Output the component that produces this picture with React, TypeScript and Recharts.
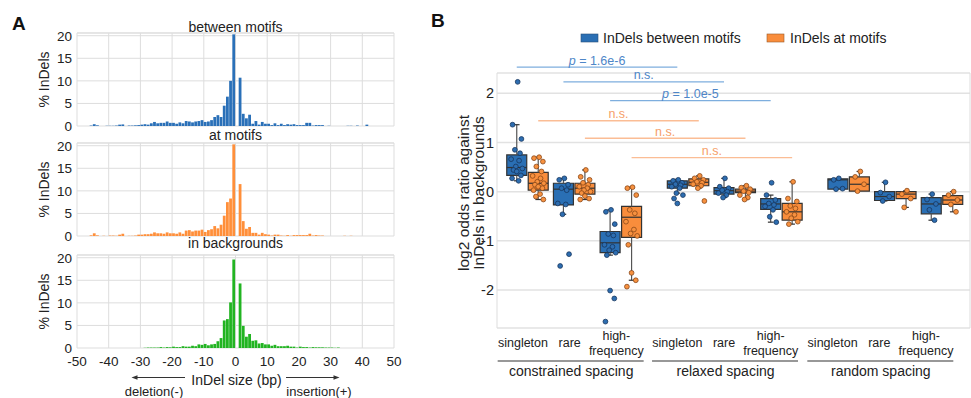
import React from 'react';
import {
  BarChart, Bar, XAxis, YAxis, CartesianGrid, ReferenceLine, ReferenceArea,
  ComposedChart, Scatter,
} from 'recharts';

const FONT = '"Liberation Sans", Arial, Helvetica, sans-serif';
const TEXT = '#222';
const GRID = '#dddddd';

// ---------- panel A: InDel size distributions (% of InDels per size bin) ----------
const indelSizes = [
  -46, -45, -44, -43, -42, -41, -40, -39, -38, -37,
  -36, -35, -34, -33, -32, -31, -30, -29, -28, -27,
  -26, -25, -24, -23, -22, -21, -20, -19, -18, -17,
  -16, -15, -14, -13, -12, -11, -10, -9, -8, -7,
  -6, -5, -4, -3, -2, -1, 0, 1, 2, 3,
  4, 5, 6, 7, 8, 9, 10, 11, 12, 13,
  14, 15, 16, 17, 18, 19, 20, 21, 22, 23,
  24, 25, 26, 27, 28, 29, 30, 31, 32, 33,
  34, 35, 36, 37, 38, 39, 40, 41, 42, 43,
  44, 45,
];

const betweenMotifs = [
  0.1, 0.4, 0.15, 0, 0, 0.05, 0.05, 0.05, 0.1, 0.3,
  0.35, 0, 0.1, 0.1, 0.15, 0.2, 0.3, 0.4, 0.3, 0.6,
  0.9, 0.6, 0.7, 0.7, 1.0, 0.7, 0.7, 0.5, 0.8, 0.6,
  1.1, 1.0, 0.8, 1.0, 1.1, 1.3, 0.9, 1.0, 1.3, 2.0,
  2.4, 2.0, 4.5, 6.5, 10.0, 20.3, 0, 10.7, 2.7, 1.7,
  2.5, 0.5, 1.1, 0.3, 0.9, 0.5, 0.5, 0.2, 0.6, 0.2,
  0.5, 0.2, 0.4, 0.3, 0.4, 0.2, 0.2, 0.2, 0.7, 0.7,
  0.1, 0.2, 0.2, 0.2, 0, 0.05, 0, 0, 0, 0,
  0, 0.05, 0.05, 0, 0.1, 0, 0, 0.3, 0, 0,
  0, 0,
];

const atMotifs = [
  0.15, 0.6, 0.15, 0, 0.05, 0, 0.1, 0.1, 0.05, 0.3,
  0.5, 0, 0.05, 0.05, 0.1, 0.3, 0.3, 0.4, 0.4, 0.5,
  0.8, 0.6, 0.6, 0.5, 0.8, 0.6, 0.6, 0.5, 0.8, 0.5,
  1.2, 1.3, 1.0, 1.2, 1.2, 1.4, 0.9, 1.3, 1.5, 2.2,
  1.7, 2.5, 4.5, 7.5, 8.3, 20.3, 0, 11.5, 3.3, 1.6,
  2.0, 0.7, 0.7, 0.3, 0.7, 0.4, 0.3, 0.1, 0.3, 0.3,
  0.1, 0.05, 0.2, 0.05, 0.2, 0.2, 0.2, 0.2, 0.2, 0.5,
  0.1, 0.2, 0.1, 0.1, 0, 0, 0, 0, 0, 0,
  0.05, 0, 0.05, 0, 0, 0, 0, 0, 0, 0,
  0, 0,
];

const inBackgrounds = [
  0, 0, 0, 0, 0, 0, 0, 0, 0, 0,
  0, 0, 0, 0, 0, 0, 0, 0.05, 0.1, 0.1,
  0.1, 0.1, 0.2, 0.1, 0.2, 0.15, 0.3, 0.2, 0.2, 0.4,
  0.3, 0.3, 0.5, 0.4, 0.8, 0.7, 0.9, 0.6, 0.8, 0.9,
  1.5, 2.2, 6.1, 6.4, 10.1, 19.6, 0, 14.3, 4.9, 2.5,
  3.1, 1.6, 1.7, 1.0, 1.1, 0.8, 0.8, 0.5, 0.7, 0.4,
  0.4, 0.4, 0.5, 0.3, 0.3, 0.1, 0.3, 0.2, 0.2, 0.1,
  0.2, 0.15, 0.15, 0.15, 0.1, 0.1, 0.1, 0.05, 0.1, 0,
  0, 0, 0, 0, 0, 0, 0, 0, 0, 0,
  0, 0,
];

const sizeTicks = [-50, -40, -30, -20, -10, 0, 10, 20, 30, 40, 50];
const pctTicks = [0, 5, 10, 15, 20];
const PCT_MAX = 20.6;

// ---------- panel B: log2 odds ratio box plots ----------
const categories = ['singleton', 'rare', 'high-frequency'];
const spacings = ['constrained spacing', 'relaxed spacing', 'random spacing'];

// [lower whisker, q1, median, q3, upper whisker]; constrained(s,r,h), relaxed(s,r,h), random(s,r,h)
const betweenBoxes = [
  [0.22, 0.33, 0.49, 0.745, 1.36],
  [-0.46, -0.27, 0.05, 0.17, 0.27],
  [-1.29, -1.24, -1.04, -0.81, -0.37],
  [-0.03, 0.07, 0.15, 0.22, 0.25],
  [-0.12, -0.05, 0.02, 0.08, 0.27],
  [-0.62, -0.36, -0.25, -0.14, -0.07],
  [0.05, 0.05, 0.24, 0.26, 0.27],
  [-0.19, -0.18, -0.1, 0.0, 0.19],
  [-0.58, -0.45, -0.25, -0.12, -0.05],
];
const atBoxes = [
  [-0.16, 0.03, 0.17, 0.39, 0.7],
  [-0.16, -0.05, 0.07, 0.17, 0.44],
  [-1.8, -0.93, -0.52, -0.3, 0.09],
  [0.07, 0.12, 0.19, 0.26, 0.32],
  [-0.16, -0.02, 0.01, 0.05, 0.12],
  [-0.66, -0.58, -0.41, -0.24, 0.2],
  [0.01, 0.01, 0.15, 0.3, 0.41],
  [-0.32, -0.14, -0.05, 0.0, 0.02],
  [-0.41, -0.26, -0.17, -0.08, 0.0],
];

const betweenPoints = [
  [2.23, 1.36, 1.07, 0.85, 0.78, 0.66, 0.63, 0.51, 0.47, 0.44, 0.41, 0.33, 0.27, 0.22],
  [0.27, 0.24, 0.14, 0.07, 0.03, -0.24, -0.26, -0.46, -1.27, -1.51],
  [-0.37, -0.41, -0.66, -0.86, -0.89, -1.08, -1.12, -1.19, -1.24, -1.29, -2.01, -2.17, -2.64],
  [0.24, 0.22, 0.18, 0.15, 0.13, 0.1, 0.07, -0.03, -0.07, -0.14, -0.24],
  [0.27, 0.1, 0.07, 0.03, 0.0, -0.03, -0.07, -0.12],
  [0.18, -0.07, -0.17, -0.24, -0.27, -0.3, -0.37, -0.51, -0.62],
  [0.27, 0.24, 0.06, 0.05],
  [0.19, -0.02, -0.1, -0.19],
  [-0.05, -0.16, -0.25, -0.37, -0.58],
];
const atPoints = [
  [0.7, 0.68, 0.61, 0.51, 0.41, 0.32, 0.27, 0.2, 0.17, 0.14, 0.1, 0.07, 0.03, -0.05, -0.1, -0.16],
  [0.44, 0.3, 0.24, 0.18, 0.14, 0.1, 0.07, 0.03, 0.0, -0.03, -0.09, -0.14, -0.16],
  [0.09, 0.07, -0.07, -0.37, -0.44, -0.61, -0.77, -0.85, -0.9, -1.08, -1.65, -1.8, -1.93],
  [0.32, 0.27, 0.24, 0.2, 0.18, 0.15, 0.12, 0.07, -0.19],
  [0.12, 0.08, 0.05, 0.01, -0.02, -0.07, -0.12, -0.16],
  [0.2, -0.14, -0.2, -0.29, -0.34, -0.41, -0.47, -0.54, -0.61, -0.66],
  [0.41, 0.3, 0.15, 0.01],
  [0.02, -0.05, -0.14, -0.32],
  [0.0, -0.07, -0.17, -0.26, -0.41],
];

// constrained vs relaxed comparisons, one per category
const betweenTests = ['p = 1.6e-6', 'n.s.', 'p = 1.0e-5'];
const atTests = ['n.s.', 'n.s.', 'n.s.'];
const betweenTestLevels = [2.53, 2.23, 1.85];
const atTestLevels = [1.44, 1.085, 0.69];
const oddsTicks = [-2, -1, 0, 1, 2];

const BLUE = '#2a6fb4';
const ORANGE = '#f98d3c';
const GROUP_STRIDE = 3.44;
const SERIES_SHIFT = 0.23;
const BOX_HALF = 0.214;
const CAP_HALF = 0.06;
const X_MIN = -0.653;
const X_MAX = 9.48;
const LABEL_SHIFT = [-4.5, -10.7, -16];
const JITTER = [0.02, -0.09, 0.1, -0.04, 0.07, -0.12, 0.05, -0.02, 0.12, -0.07, 0.0, 0.09, -0.1, 0.04, -0.05, 0.11];

const boxCenters = spacings.flatMap((_, g) => categories.map((_, c) => g * GROUP_STRIDE + c));

const seriesB = [
  {
    name: 'InDels between motifs', boxes: betweenBoxes, points: betweenPoints, shift: -SERIES_SHIFT,
    fill: BLUE, dot: '#2d6db0', dotEdge: '#17365e', tests: betweenTests, levels: betweenTestLevels,
    testLine: '#7eaede', testText: '#4e86c8',
  },
  {
    name: 'InDels at motifs', boxes: atBoxes, points: atPoints, shift: SERIES_SHIFT,
    fill: ORANGE, dot: '#f7913f', dotEdge: '#8a4718', tests: atTests, levels: atTestLevels,
    testLine: '#fbbd95', testText: '#f6a06a',
  },
];

function Histogram({ top, values, color, showAxis }: { top: number; values: number[]; color: string; showAxis: boolean }) {
  const data = indelSizes
    .map((s, i) => ({ x: s + 0.5, pct: values[i] }))
    .filter((d) => d.pct > 0);
  return (
    <div style={{ position: 'absolute', left: 0, top }}>
      <BarChart
        width={410}
        height={showAxis ? 176 : 140}
        data={data}
        margin={{ top: 33, right: 16, left: 0, bottom: showAxis ? 0 : 14 }}
      >
        <CartesianGrid stroke={GRID} />
        <ReferenceLine y={PCT_MAX} stroke={GRID} />
        <XAxis
          type="number" dataKey="x" domain={[-50, 50]} ticks={sizeTicks} interval={0}
          hide={!showAxis} height={50} tickSize={0} tickMargin={8} axisLine={false} tickLine={false}
          tick={{ fontSize: 13.5, fill: TEXT }} allowDataOverflow
        />
        <YAxis
          type="number" domain={[0, PCT_MAX]} ticks={pctTicks} interval={0} width={77}
          tickSize={0} tickMargin={5} axisLine={false} tickLine={false}
          tick={{ fontSize: 13.5, fill: TEXT }} allowDataOverflow
        />
        <Bar dataKey="pct" fill={color} barSize={2.8} isAnimationActive={false} />
      </BarChart>
    </div>
  );
}

const renderCatTick = (props: any) => {
  const { x, y, payload } = props;
  const idx = boxCenters.findIndex((p) => Math.abs(p - payload.value) < 1e-6);
  if (idx < 0) return <g />;
  const g = Math.floor(idx / categories.length);
  const c = idx % categories.length;
  const lx = x + LABEL_SHIFT[g];
  const label = categories[c];
  const cut = label.indexOf('-');
  return (
    <g>
      {cut < 0 ? (
        <text x={lx} y={y + 19} textAnchor="middle" fontSize={12.5} fill={TEXT}>{label}</text>
      ) : (
        <text textAnchor="middle" fontSize={12.5} fill={TEXT}>
          <tspan x={lx} y={y + 11.5}>{label.slice(0, cut + 1)}</tspan>
          <tspan x={lx} y={y + 27}>{label.slice(cut + 1)}</tspan>
        </text>
      )}
      {c === 1 && (
        <>
          <line x1={lx - 72} x2={lx + 74} y1={y + 33} y2={y + 33} stroke="#333" strokeWidth={1.2} />
          <text x={lx + 1.5} y={y + 48} textAnchor="middle" fontSize={14} fill={TEXT}>{spacings[g]}</text>
        </>
      )}
    </g>
  );
};

const testLabel = (text: string, color: string) => (props: any) => {
  const vb = props.viewBox || {};
  const cx = (vb.x || 0) + (vb.width || 0) / 2;
  const y = (vb.y || 0) - 2.5;
  const italic = text.startsWith('p ');
  return (
    <text x={cx} y={y} textAnchor="middle" fontSize={12.5} fill={color}>
      {italic ? (<><tspan fontStyle="italic">p</tspan>{text.slice(1)}</>) : text}
    </text>
  );
};

function BoxPanel() {
  const boxEls: React.ReactNode[] = [];
  seriesB.forEach((s, si) => {
    s.boxes.forEach(([lo, q1, med, q3, hi], i) => {
      const cx = boxCenters[i] + s.shift;
      const k = `${si}-${i}`;
      if (hi > q3) {
        boxEls.push(<ReferenceLine key={`wu${k}`} segment={[{ x: cx, y: q3 }, { x: cx, y: hi }]} stroke="#555" strokeWidth={1.2} />);
        boxEls.push(<ReferenceLine key={`cu${k}`} segment={[{ x: cx - CAP_HALF, y: hi }, { x: cx + CAP_HALF, y: hi }]} stroke="#333" strokeWidth={1.2} />);
      }
      if (lo < q1) {
        boxEls.push(<ReferenceLine key={`wl${k}`} segment={[{ x: cx, y: q1 }, { x: cx, y: lo }]} stroke="#555" strokeWidth={1.2} />);
        boxEls.push(<ReferenceLine key={`cl${k}`} segment={[{ x: cx - CAP_HALF, y: lo }, { x: cx + CAP_HALF, y: lo }]} stroke="#333" strokeWidth={1.2} />);
      }
      boxEls.push(
        <ReferenceArea key={`b${k}`} x1={cx - BOX_HALF} x2={cx + BOX_HALF} y1={q1} y2={q3}
          fill={s.fill} fillOpacity={1} stroke="#333" strokeWidth={1.2} />,
      );
      boxEls.push(<ReferenceLine key={`m${k}`} segment={[{ x: cx - BOX_HALF, y: med }, { x: cx + BOX_HALF, y: med }]} stroke="#333" strokeWidth={1.2} />);
    });
  });

  const testEls: React.ReactNode[] = [];
  seriesB.forEach((s, si) => {
    s.tests.forEach((t, c) => {
      const x1 = boxCenters[c] + s.shift;
      const x2 = boxCenters[categories.length + c] + s.shift;
      testEls.push(
        <ReferenceLine key={`t${si}-${c}`} ifOverflow="visible"
          segment={[{ x: x1, y: s.levels[c] }, { x: x2, y: s.levels[c] }]}
          stroke={s.testLine} strokeWidth={1.3} label={testLabel(t, s.testText)} />,
      );
    });
  });

  return (
    <div style={{ position: 'absolute', left: 430, top: 0 }}>
      <ComposedChart width={541} height={398} margin={{ top: 73, right: 1, left: 0, bottom: 0 }}>
        <CartesianGrid vertical={false} stroke="#e2e2e2" strokeWidth={1.5} />
        <ReferenceLine x={X_MAX} stroke={GRID} />
        <XAxis
          type="number" dataKey="x" domain={[X_MIN, X_MAX]} ticks={boxCenters} interval={0}
          tick={renderCatTick} tickSize={0} tickMargin={0} axisLine={false} tickLine={false}
          height={70} allowDataOverflow
        />
        <YAxis
          type="number" dataKey="y" domain={[-2.77, 2.41]} ticks={oddsTicks} interval={0} width={67}
          tickSize={0} tickMargin={3} tickLine={false} axisLine={{ stroke: GRID }}
          tick={{ fontSize: 14.5, fill: TEXT }} allowDataOverflow
        />
        {testEls}
        {boxEls}
        {seriesB.map((s, si) => (
          <Scatter
            key={`s${si}`}
            name={s.name}
            data={s.points.flatMap((vals, i) =>
              vals.map((v, j) => ({ x: boxCenters[i] + s.shift + JITTER[j % JITTER.length], y: v })))}
            dataKey="y"
            isAnimationActive={false}
            shape={(p: any) => (
              <circle cx={p.cx} cy={p.cy} r={2.4} fill={s.dot} stroke={s.dotEdge} strokeWidth={0.8} />
            )}
          />
        ))}
      </ComposedChart>
    </div>
  );
}

function Overlay() {
  const titles = [
    { text: 'between motifs', y: 31.5, mid: 79.5 },
    { text: 'at motifs', y: 139.5, mid: 189.5 },
    { text: 'in backgrounds', y: 248, mid: 301.5 },
  ];
  return (
    <svg width={971} height={398} style={{ position: 'absolute', left: 0, top: 0, pointerEvents: 'none' }} fontFamily={FONT}>
      <text x={12} y={30} fontSize={19} fontWeight="bold" fill="#111">A</text>
      <text x={431} y={27} fontSize={19} fontWeight="bold" fill="#111">B</text>
      {titles.map((t) => (
        <g key={t.text}>
          <text x={235.5} y={t.y} textAnchor="middle" fontSize={14} fill={TEXT}>{t.text}</text>
          <text transform={`translate(48.5, ${t.mid}) rotate(-90)`} textAnchor="middle" fontSize={14} fill={TEXT}>% InDels</text>
        </g>
      ))}
      <text x={236.5} y={385} textAnchor="middle" fontSize={14} fill={TEXT}>InDel size (bp)</text>
      <line x1={134} x2={185} y1={377.5} y2={377.5} stroke="#333" strokeWidth={1} />
      <polygon points="131.5,377.5 137.5,375.3 137.5,379.7" fill="#333" />
      <line x1={286} x2={337} y1={377.5} y2={377.5} stroke="#333" strokeWidth={1} />
      <polygon points="339.5,377.5 333.5,375.3 333.5,379.7" fill="#333" />
      <text x={154} y={396} textAnchor="middle" fontSize={13} fill={TEXT}>deletion(-)</text>
      <text x={319} y={396} textAnchor="middle" fontSize={13} fill={TEXT}>insertion(+)</text>

      <rect x={581} y={34} width={17} height={8} fill={BLUE} stroke="#2a4f7a" strokeWidth={0.6} />
      <text x={603} y={42.5} fontSize={14} fill={TEXT}>InDels between motifs</text>
      <rect x={767} y={34} width={17} height={8} fill={ORANGE} stroke="#9a5a2a" strokeWidth={0.6} />
      <text x={790} y={42.5} fontSize={14} fill={TEXT}>InDels at motifs</text>

      <text transform="translate(469, 193) rotate(-90)" textAnchor="middle" fontSize={15.5} fill={TEXT}>log2 odds ratio against</text>
      <text transform="translate(483.5, 193) rotate(-90)" textAnchor="middle" fontSize={15.5} fill={TEXT}>InDels in backgrounds</text>
    </svg>
  );
}

export default function App() {
  return (
    <div style={{ position: 'absolute', left: 0, top: 0, width: 971, height: 398, background: '#fff', fontFamily: FONT, overflow: 'hidden' }}>
      <Histogram top={0} values={betweenMotifs} color="#2a70b8" showAxis={false} />
      <Histogram top={110} values={atMotifs} color="#ff8f3a" showAxis={false} />
      <Histogram top={222} values={inBackgrounds} color="#22b422" showAxis />
      <BoxPanel />
      <Overlay />
    </div>
  );
}
